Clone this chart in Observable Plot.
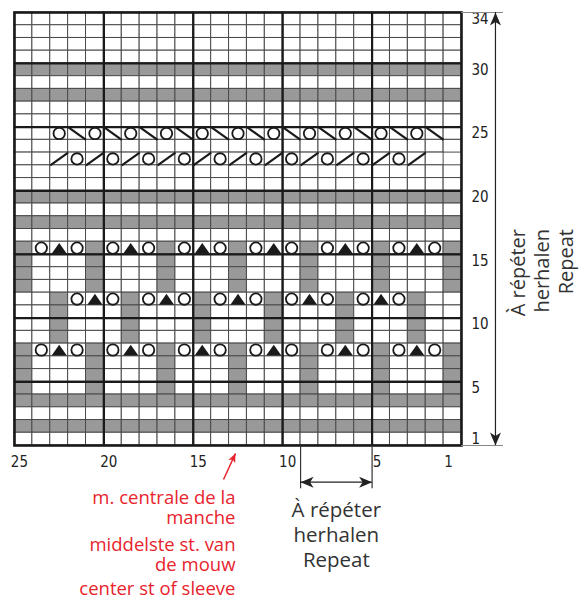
<!DOCTYPE html>
<html><head><meta charset="utf-8">
<script src="https://cdn.jsdelivr.net/npm/d3@7"></script>
<script src="https://cdn.jsdelivr.net/npm/@observablehq/plot@0.6"></script>
<style>body{margin:0;background:#fff}</style>
</head><body><div id="chart"></div>
<script>
// Chart rows from 34 (top) down to 1; each string lists columns 25 (left) .. 1 (right)
// '.' white, '#' grey, 'o' yarn over (circle), 'A' decrease (triangle), 'b' backslash, 's' slash
const rowNumbers = [34,33,32,31,30,29,28,27,26,25,24,23,22,21,20,19,18,17,16,15,14,13,12,11,10,9,8,7,6,5,4,3,2,1];
const columnNumbers = [25,24,23,22,21,20,19,18,17,16,15,14,13,12,11,10,9,8,7,6,5,4,3,2,1];
const chartRows = [
  ".........................",
  ".........................",
  ".........................",
  ".........................",
  "#########################",
  ".........................",
  "#########################",
  ".........................",
  ".........................",
  "..obobobobobobobobobobob.",
  ".........................",
  "..sosososososososososos.",
  ".........................",
  ".........................",
  "#########################",
  ".........................",
  "#########################",
  ".........................",
  "#oAo#oAo#oAo#oAo#oAo#oAo#",
  "#...#...#...#...#...#...#",
  "#...#...#...#...#...#...#",
  "#...#...#...#...#...#...#",
  "..#oAo#oAo#oAo#oAo#oAo#..",
  "..#...#...#...#...#...#..",
  "..#...#...#...#...#...#..",
  "..#...#...#...#...#...#..",
  "#oAo#oAo#oAo#oAo#oAo#oAo#",
  "#...#...#...#...#...#...#",
  "#...#...#...#...#...#...#",
  "#...#...#...#...#...#...#",
  "#########################",
  ".........................",
  "#########################",
  "........................."
];
const xTickLabels = [25,20,15,10,5,1];
const yTickLabels = [34,30,25,20,15,10,5,1];
const thickCols = [20.5,15.5,10.5,5.5];
const thickRows = [30.5,25.5,20.5,15.5,10.5,5.5];
const repeatText = ["À répéter","herhalen","Repeat"];
const centerTexts = ["m. centrale de la\nmanche","middelste st. van\nde mouw","center st of sleeve"];

const cells = [];
chartRows.forEach((s,i)=>[...s].forEach((ch,j)=>cells.push({row: rowNumbers[i], col: columnNumbers[j], code: ch})));

const tri = {draw(c){ c.moveTo(0,-5.2); c.lineTo(7.6,5.6); c.lineTo(-7.6,5.6); c.closePath(); }};
const head = {draw(c){ c.moveTo(0,0); c.lineTo(-13,-5.5); c.lineTo(-9.5,0); c.lineTo(-13,5.5); c.closePath(); }};
const smallHead = {draw(c){ c.moveTo(0,0); c.lineTo(-9,-3.8); c.lineTo(-6.5,0); c.lineTo(-9,3.8); c.closePath(); }};

const numFont = "'Liberation Sans Narrow','DejaVu Sans Condensed',sans-serif";
const txtFont = "'Open Sans', Lato, sans-serif";
const ink = "#1a1a1a";
const red = "#e8232d";

const plot = Plot.plot({
  width: 579, height: 599,
  marginLeft: 14, marginRight: 118, marginTop: 12, marginBottom: 154,
  x: {type: "linear", domain: [25.5, 0.5], axis: null},
  y: {type: "linear", domain: [0.5, 34.5], axis: null},
  style: {background: "#fff", fontFamily: txtFont},
  marks: [
    Plot.rect(cells, {x1: d=>d.col-0.5, x2: d=>d.col+0.5, y1: d=>d.row-0.5, y2: d=>d.row+0.5,
      fill: d=>d.code==="#" ? "#999" : "#fff", stroke: "#4a4a4a", strokeWidth: 1}),
    Plot.ruleX(thickCols, {y1: 0.5, y2: 34.5, stroke: ink, strokeWidth: 2.2}),
    Plot.ruleY(thickRows, {x1: 25.5, x2: 0.5, stroke: ink, strokeWidth: 2.2}),
    Plot.frame({stroke: ink, strokeWidth: 2.6}),
    Plot.link(cells.filter(d=>d.code==="s"), {x1: d=>d.col+0.5, y1: d=>d.row-0.5, x2: d=>d.col-0.5, y2: d=>d.row+0.5, stroke: ink, strokeWidth: 2.2}),
    Plot.link(cells.filter(d=>d.code==="b"), {x1: d=>d.col+0.5, y1: d=>d.row+0.5, x2: d=>d.col-0.5, y2: d=>d.row-0.5, stroke: ink, strokeWidth: 2.2}),
    Plot.dot(cells.filter(d=>d.code==="o"), {x: "col", y: "row", r: 5.7, fill: "#fff", stroke: ink, strokeWidth: 1.8}),
    Plot.dot(cells.filter(d=>d.code==="A"), {x: "col", y: "row", symbol: tri, fill: ink, stroke: "none"}),
    // axis numbers
    Plot.text(xTickLabels, {x: d=>d, frameAnchor: "bottom", lineAnchor: "middle", dy: 17, dx: -4, fontSize: 15, fontFamily: numFont, fill: "#222"}),
    Plot.text(yTickLabels, {y: d=>d, frameAnchor: "right", dx: 10, textAnchor: "start", fontSize: 15, fontFamily: numFont, fill: "#222"}),
    // right repeat indicator
    Plot.ruleY([0.5, 34.5], {x1: 0.5, x2: -1.85, stroke: "#888", strokeWidth: 1}),
    Plot.ruleX([-1.4], {y1: 0.5, y2: 34.5, stroke: "#222", strokeWidth: 1.2}),
    Plot.dot([{y: 34.5, a: -90}, {y: 0.5, a: 90}], {x: ()=>-1.4, y: "y", rotate: "a", symbol: head, fill: "#222", stroke: "none"}),
    Plot.text([repeatText.join("\n")], {frameAnchor: "right", lineAnchor: "middle", dx: 80, rotate: -90, lineHeight: 1.2, fontSize: 20, fill: "#333"}),
    // bottom repeat indicator
    Plot.ruleX([9.5, 5.5], {y1: 0.5, y2: -2.9, stroke: "#333", strokeWidth: 1.2}),
    Plot.ruleY([-2.38], {x1: 9.5, x2: 5.5, stroke: "#222", strokeWidth: 1.2}),
    Plot.dot([{x: 9.5, a: 180}, {x: 5.5, a: 0}], {x: "x", y: ()=>-2.38, rotate: "a", symbol: head, fill: "#222", stroke: "none"}),
    Plot.text([repeatText.join("\n")], {x: ()=>7.5, frameAnchor: "bottom", lineAnchor: "middle", dy: 88, lineHeight: 1.22, fontSize: 20.5, fill: "#333"}),
    // centre stitch annotation
    Plot.link([0], {x1: ()=>13.81, y1: ()=>-2.17, x2: ()=>13.14, y2: ()=>-0.13, stroke: red, strokeWidth: 1.5}),
    Plot.dot([0], {x: ()=>13.14, y: ()=>-0.13, rotate: ()=>-65, symbol: smallHead, fill: red, stroke: "none"}),
    ...centerTexts.map((t,i)=>Plot.text([t], {x: ()=>13, frameAnchor: "bottom", lineAnchor: "middle", dx: -2.5, dy: [62,109,143][i], textAnchor: "end", lineHeight: 1.08, fontSize: 18.5, fill: red}))
  ]
});
document.getElementById("chart").append(plot);
</script>
</body></html>
